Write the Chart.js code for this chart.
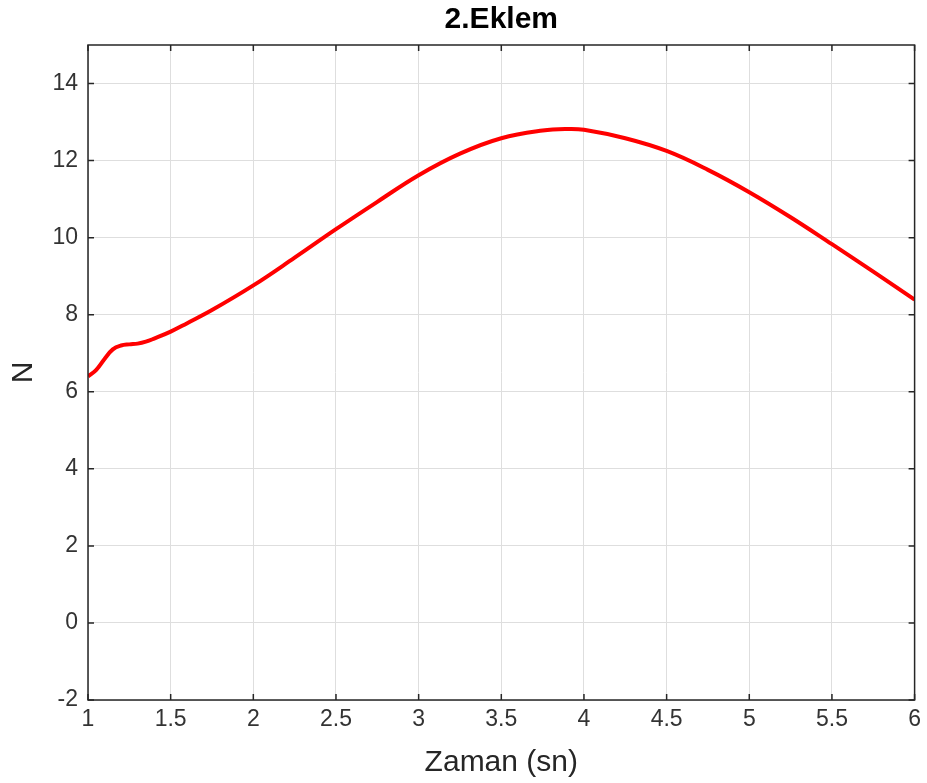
<!DOCTYPE html>
<html>
<head>
<meta charset="utf-8">
<script src="https://cdn.jsdelivr.net/npm/chart.js@4.4.1/dist/chart.umd.min.js"></script>
<style>
  html, body { margin: 0; padding: 0; background: #fff; }
  #wrap { width: 927px; height: 783px; }
</style>
</head>
<body>
<div id="wrap"><canvas id="c" width="927" height="783"></canvas></div>
<script>
// values
var zaman = [1.0, 1.05, 1.1, 1.15, 1.2, 1.25, 1.3, 1.35, 1.4, 1.5, 1.6, 1.75, 2.0, 2.25, 2.5, 2.75,
             3.0, 3.25, 3.5, 3.75, 3.9, 4.0, 4.25, 4.5, 4.75, 5.0, 5.25, 5.5, 5.75, 6.0];
var kuvvet = [6.40, 6.57, 6.85, 7.10, 7.20, 7.23, 7.25, 7.30, 7.38, 7.56, 7.78, 8.12, 8.76, 9.48, 10.22, 10.93,
              11.62, 12.18, 12.58, 12.78, 12.82, 12.80, 12.58, 12.25, 11.76, 11.18, 10.53, 9.83, 9.12, 8.39];
var xTicks = [1, 1.5, 2, 2.5, 3, 3.5, 4, 4.5, 5, 5.5, 6];
var yTicks = [-2, 0, 2, 4, 6, 8, 10, 12, 14];

var points = zaman.map(function(t, i) { return { x: t, y: kuvvet[i] }; });

var fontFamily = 'Liberation Sans, Arial, Helvetica, sans-serif';

// MATLAB style frame: box on all sides with inward tick marks
var framePlugin = {
    id: 'frame',
    afterDatasetsDraw: function(chart) {
        var ctx = chart.ctx;
        var a = chart.chartArea;
        var xs = chart.scales.x, ys = chart.scales.y;
        ctx.save();
        ctx.strokeStyle = '#262626';
        ctx.lineWidth = 1.5;
        ctx.strokeRect(a.left, a.top, a.right - a.left, a.bottom - a.top);
        ctx.beginPath();
        xTicks.forEach(function(v) {
            var px = xs.getPixelForValue(v);
            ctx.moveTo(px, a.bottom); ctx.lineTo(px, a.bottom - 6);
            ctx.moveTo(px, a.top); ctx.lineTo(px, a.top + 6);
        });
        yTicks.forEach(function(v) {
            var py = ys.getPixelForValue(v);
            ctx.moveTo(a.left, py); ctx.lineTo(a.left + 6, py);
            ctx.moveTo(a.right, py); ctx.lineTo(a.right - 6, py);
        });
        ctx.stroke();
        ctx.restore();
    }
};

var ctx = document.getElementById('c').getContext('2d');
var chart = new Chart(ctx, {
    type: 'line',
    data: {
        datasets: [{
            data: points,
            borderColor: '#ff0000',
            borderWidth: 4,
            pointRadius: 0,
            fill: false,
            tension: 0.4
        }]
    },
    options: {
        responsive: false,
        animation: false,
        layout: { padding: { left: 0, right: 11, top: 0, bottom: 0 } },
        plugins: {
            legend: { display: false },
            tooltip: { enabled: false },
            title: {
                display: true,
                fullSize: false,   // centre over the plot area like MATLAB
                text: '2.Eklem',
                color: '#000',
                font: { family: fontFamily, size: 30, weight: 'bold' },
                padding: { top: 2, bottom: 7 }
            }
        },
        scales: {
            x: {
                type: 'linear',
                min: 1,
                max: 6,
                afterBuildTicks: function(scale) {
                    scale.ticks = xTicks.map(function(v) { return { value: v }; });
                },
                afterFit: function(scale) { scale.height = 83; },
                grid: { color: '#dedede', lineWidth: 1, drawTicks: false },
                border: { display: false },
                ticks: {
                    color: '#333333',
                    padding: 6,
                    maxRotation: 0,
                    font: { family: fontFamily, size: 23 },
                    callback: function(v) { return String(v); }
                },
                title: {
                    display: true,
                    text: 'Zaman (sn)',
                    color: '#262626',
                    font: { family: fontFamily, size: 30 },
                    padding: { top: 2, bottom: 2 }
                }
            },
            y: {
                type: 'linear',
                min: -2,
                max: 15,
                afterBuildTicks: function(scale) {
                    scale.ticks = yTicks.map(function(v) { return { value: v }; });
                },
                afterFit: function(scale) { scale.width = 88; },
                grid: { color: '#dedede', lineWidth: 1, drawTicks: false },
                border: { display: false },
                ticks: {
                    color: '#333333',
                    padding: 10,
                    font: { family: fontFamily, size: 23 },
                    callback: function(v) { return String(v); }
                },
                title: {
                    display: true,
                    text: 'N',
                    color: '#262626',
                    font: { family: fontFamily, size: 30 },
                    padding: { top: 6, bottom: 0 }
                }
            }
        }
    },
    plugins: [framePlugin]
});
</script>
</body>
</html>
